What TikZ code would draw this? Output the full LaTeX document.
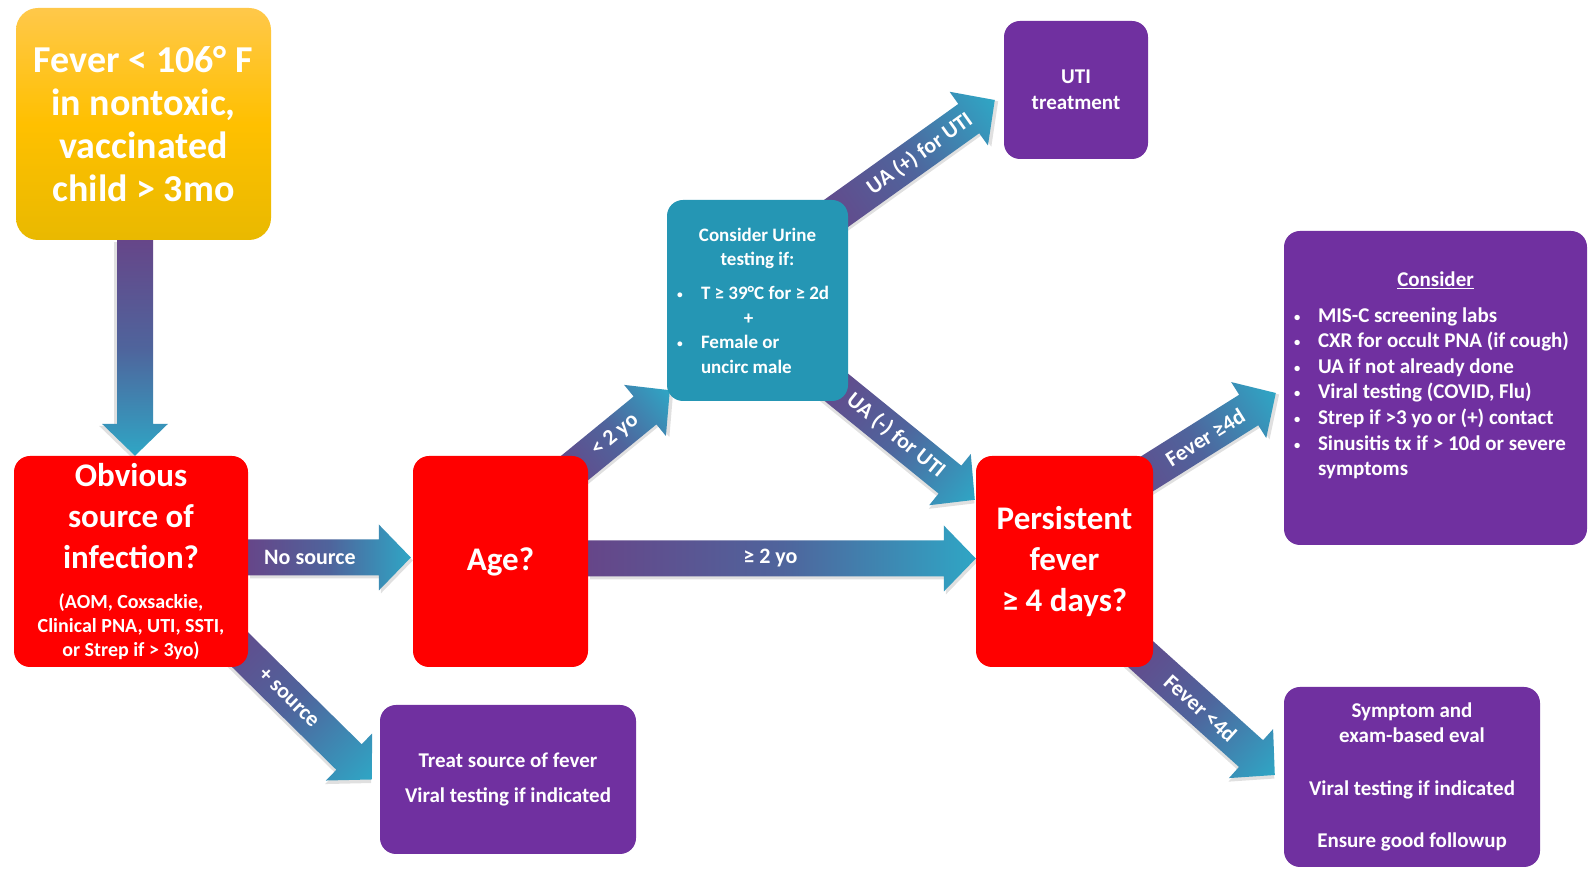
\documentclass[tikz,border=0pt]{standalone}
\usepackage{fontspec}
\setmainfont{Carlito}
\usetikzlibrary{calc,backgrounds}

\definecolor{boxred}{HTML}{FF0000}
\definecolor{boxpurple}{HTML}{7030A0}
\definecolor{boxteal}{HTML}{2596B4}
\definecolor{goldtop}{HTML}{FFC84A}
\definecolor{goldmid}{HTML}{FFC000}
\definecolor{goldbot}{HTML}{E9B900}
\definecolor{arrowin}{HTML}{664689}
\definecolor{arrowmid}{HTML}{4F649C}
\definecolor{arrowout}{HTML}{2FA6C5}

% broad shaded arrow: [label position] {start} {tip} {label}
\newcommand\fatarrow[4][0.45]{%
  \path let \p1 = (#2), \p2 = (#3) in
    \pgfextra{%
      \pgfmathsetmacro\arrowangle{atan2(\y2-\y1,\x2-\x1)}%
      \pgfmathsetmacro\arrowlength{veclen(\x2-\x1,\y2-\y1)}%
      \pgfmathsetmacro\arrowx{\x1}%
      \pgfmathsetmacro\arrowy{\y1}%
      \xdef\arrowangle{\arrowangle}\xdef\arrowlength{\arrowlength}%
      \xdef\arrowx{\arrowx}\xdef\arrowy{\arrowy}};
  \begin{scope}[transform canvas={shift={(\arrowx pt,\arrowy pt)},
                                  rotate=\arrowangle}]
    \fill [black, opacity=0.12, shift={(2pt,-3pt)}]
      (0pt,-18pt) -- (\arrowlength pt-32pt,-18pt)
      -- (\arrowlength pt-32pt,-33pt) -- (\arrowlength pt,0pt)
      -- (\arrowlength pt-32pt,33pt) -- (\arrowlength pt-32pt,18pt)
      -- (0pt,18pt) -- cycle;
    \shade [left color=arrowin, right color=arrowout, middle color=arrowmid]
      (0pt,-18pt) -- (\arrowlength pt-32pt,-18pt)
      -- (\arrowlength pt-32pt,-33pt) -- (\arrowlength pt,0pt)
      -- (\arrowlength pt-32pt,33pt) -- (\arrowlength pt-32pt,18pt)
      -- (0pt,18pt) -- cycle;
    \node [arrowlabel] at (#1*\arrowlength pt,0pt) {#4};
  \end{scope}}

\newcommand\bulletline[1]{%
  \makebox[24pt][l]{\raisebox{1pt}{\scalebox{0.6}{\textbullet}}}\mbox{#1}}

\begin{document}
\begin{tikzpicture}
  [
    x = 1pt, y = 1pt,
    box/.style        = {rounded corners=16pt, text=white, align=flush center,
                         inner sep=6pt},
    redbox/.style     = {box, fill=boxred, minimum height=211pt,
                         font=\bfseries\fontsize{33}{41}\selectfont},
    purplebox/.style  = {box, fill=boxpurple, inner sep=10pt,
                         font=\bfseries\fontsize{21}{25.6}\selectfont},
    arrowlabel/.style = {text=white,
                         font=\bfseries\fontsize{22}{26}\selectfont}
  ]
  \useasboundingbox (0,0) rectangle (1590,869);

  \node [box, top color=goldtop, bottom color=goldbot, middle color=goldmid,
         rounded corners=22pt, minimum width=255pt, minimum height=232pt,
         text width=243pt, font=\bfseries\fontsize{38}{43}\selectfont]
    (fever) at (143.5,745) {Fever < 106°~F\\in nontoxic,\\vaccinated\\child > 3mo};

  \node [redbox, minimum width=234pt, text width=222pt] (obv) at (131,307.5)
    {Obvious\\source of\\infection?\par\vspace{16pt}%
     {\fontsize{20}{24}\selectfont (AOM, Coxsackie,\\Clinical PNA, UTI, SSTI,\\or Strep if > 3yo)\par}};
  \node [redbox, minimum width=175pt, text width=163pt] (age) at (500.5,307.5) {Age?};
  \node [redbox, minimum width=177pt, text width=165pt] (persist) at (1064.5,307.5)
    {Persistent\\fever\\≥ 4 days?};

  \node [box, fill=boxteal, inner sep=10pt, align=flush left, minimum width=181pt,
         minimum height=201pt, text width=161pt,
         font=\bfseries\fontsize{19}{24.4}\selectfont] (urine) at (757.5,568.5)
    {\makebox[\hsize]{Consider Urine}\\\makebox[\hsize]{testing if:}\\[10pt]
     \bulletline{T ≥ 39°C for ≥ 2d}\\
     \makebox[\hsize]{+\hspace{18pt}}\\
     \bulletline{Female or}\\
     \hspace*{24pt}uncirc male};

  \node [purplebox, minimum width=144pt, minimum height=138pt, text width=124pt]
    (uti) at (1076,779) {UTI\\treatment};

  \node [purplebox, align=flush left, minimum width=303pt, minimum height=314pt,
         text width=283pt] (consider) at (1435.5,481)
    {\makebox[\hsize]{\underline{Consider}}\\[10pt]
     \bulletline{MIS-C screening labs}\\
     \bulletline{CXR for occult PNA (if cough)}\\
     \bulletline{UA if not already done}\\
     \bulletline{Viral testing (COVID, Flu)}\\
     \bulletline{Strep if >3 yo or (+) contact}\\
     \bulletline{Sinusitis tx if > 10d or severe}\\
     \hspace*{24pt}symptoms\\[3pt]\mbox{}};

  \node [purplebox, minimum width=256pt, minimum height=149pt, text width=236pt]
    (treat) at (508,89.5) {Treat source of fever\\[10pt]Viral testing if indicated};

  \node [purplebox, minimum width=256pt, minimum height=180pt, text width=236pt]
    (symptom) at (1412,92)
    {Symptom and\\exam-based eval\\[27pt]Viral testing if indicated\\[27pt]Ensure good followup};

  \begin{pgfonlayer}{background}
    \fill [white] (0,0) rectangle (1590,869);
    \fatarrow{$(obv.north |- fever.south)+(4pt,0)$}{$(obv.north)+(4pt,0)$}{}
    \fatarrow[0.38]{$(obv.east)+(0,4pt)$}{$(age.west)+(-2pt,4pt)$}{No source}
    \fatarrow[0.47]{$(age.east)+(0,3pt)$}{$(persist.west)+(0,3pt)$}{≥ 2 yo}
    \fatarrow[0.5]{$(age.north east)+(-28pt,-24pt)$}{$(urine.south west)+(3pt,11pt)$}{< 2 yo}
    \fatarrow[0.57]{$(urine.north east)+(-28pt,-25pt)$}{$(uti.west)+(-9pt,-10pt)$}{UA (+) for UTI}
    \fatarrow[0.49]{$(urine.south east)+(-28pt,27pt)$}{$(persist.north west)+(-1pt,-44pt)$}{UA (-) for UTI}
    \fatarrow[0.47]{$(obv.south east)+(-33pt,42pt)$}{$(treat.west)+(-8pt,0pt)$}{+ source}
    \fatarrow[0.56]{$(persist.north east)+(-38pt,-38pt)$}{$(consider.west)+(-8pt,-5pt)$}{Fever ≥4d}
    \fatarrow[0.5]{$(persist.south east)+(-27pt,26pt)$}{$(symptom.west)+(-9pt,2pt)$}{Fever <4d}
  \end{pgfonlayer}
\end{tikzpicture}
\end{document}
